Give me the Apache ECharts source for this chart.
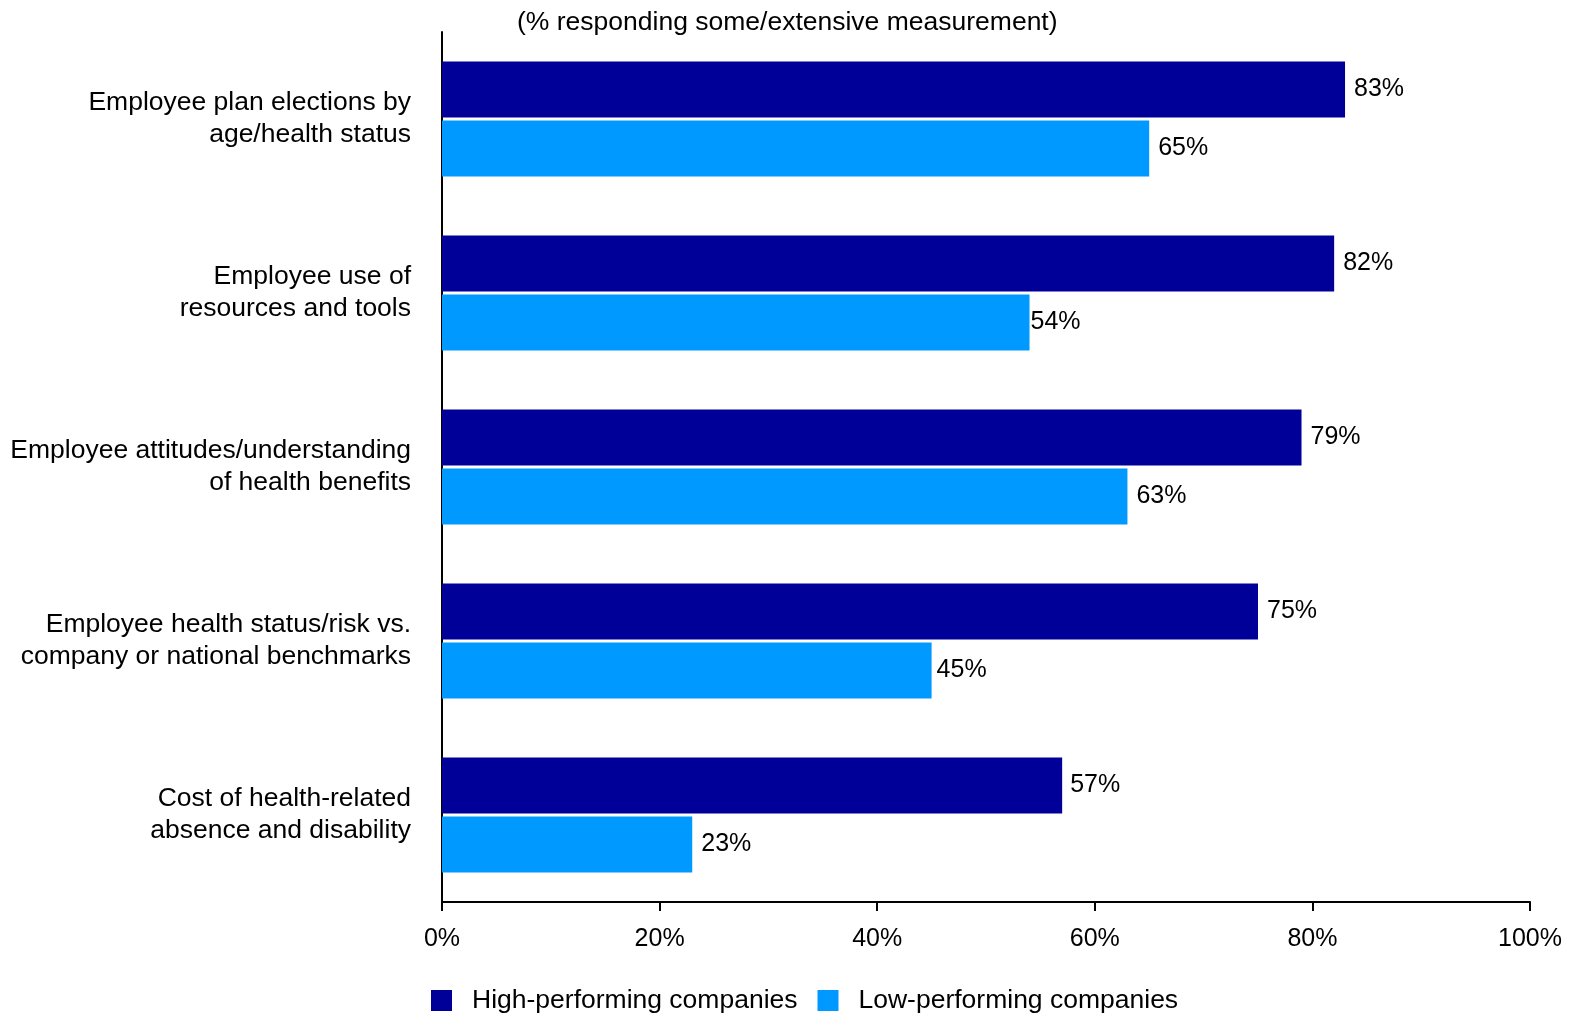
<!DOCTYPE html>
<html>
<head>
<meta charset="utf-8">
<script src="https://cdn.jsdelivr.net/npm/echarts@6/dist/echarts.min.js"></script>
<style>html,body{margin:0;padding:0;background:#fff;}#c{width:1582px;height:1014px;}</style>
</head>
<body>
<div id="c"></div>
<script>
var categories = [
  "Employee plan elections by\nage/health status",
  "Employee use of\nresources and tools",
  "Employee attitudes/understanding\nof health benefits",
  "Employee health status/risk vs.\ncompany or national benchmarks",
  "Cost of health-related\nabsence and disability"
];
var seriesNames = ["High-performing companies", "Low-performing companies"];
var highValues = [83, 82, 79, 75, 57];
var lowValues = [65, 54, 63, 45, 23];
var xTicks = [0, 20, 40, 60, 80, 100];
var titleText = "(% responding some/extensive measurement)";

// label gaps (style only)
var highLabelGap = [9, 9, 9, 9, 8];
var lowLabelGap = [9, 1, 9, 5, 9];

var FONT = '"Liberation Sans", Arial, sans-serif';
var chart = echarts.init(document.getElementById('c'), null, {renderer: 'canvas'});
function labelCfg() {
  return {show: true, position: 'right', distance: 9, color: '#000', fontSize: 25, fontFamily: FONT, formatter: '{c}%'};
}
function mkData(vals, gaps) {
  return vals.map(function (v, i) { return {value: v, label: {distance: gaps[i]}}; });
}
chart.setOption({
  animation: false,
  backgroundColor: '#fff',
  title: {text: titleText, left: 512, top: 4, textStyle: {fontSize: 26.5, fontWeight: 'normal', color: '#000', fontFamily: FONT}},
  legend: {
    data: seriesNames, left: 426, top: 982, itemWidth: 21, itemHeight: 21, itemGap: 20, icon: 'rect',
    textStyle: {fontSize: 26.5, color: '#000', fontFamily: FONT, padding: [0, 0, 0, 15]}
  },
  grid: {left: 442, right: 52, top: 32, bottom: 112, containLabel: false},
  xAxis: {
    type: 'value', min: 0, max: 100, interval: 20,
    axisLine: {show: true, lineStyle: {color: '#000', width: 2}},
    axisTick: {show: true, length: 9, lineStyle: {color: '#000', width: 2}},
    splitLine: {show: false},
    axisLabel: {fontSize: 25, color: '#000', fontFamily: FONT, margin: 25, formatter: function (v) { return xTicks.indexOf(v) >= 0 ? v + '%' : ''; }}
  },
  yAxis: {
    type: 'category', data: categories, inverse: true,
    axisLine: {show: true, lineStyle: {color: '#000', width: 2}},
    axisTick: {show: false},
    axisLabel: {fontSize: 26.5, color: '#000', fontFamily: FONT, margin: 31, lineHeight: 32, align: 'right', verticalAlign: 'middle', padding: [0, 0, 8, 0]}
  },
  series: [
    {name: seriesNames[0], type: 'bar', data: mkData(highValues, highLabelGap), itemStyle: {color: '#000099'}, barWidth: 56, barGap: '5%', label: labelCfg()},
    {name: seriesNames[1], type: 'bar', data: mkData(lowValues, lowLabelGap), itemStyle: {color: '#0099FF'}, barWidth: 56, barGap: '5%', label: labelCfg()}
  ]
});
</script>
</body>
</html>
